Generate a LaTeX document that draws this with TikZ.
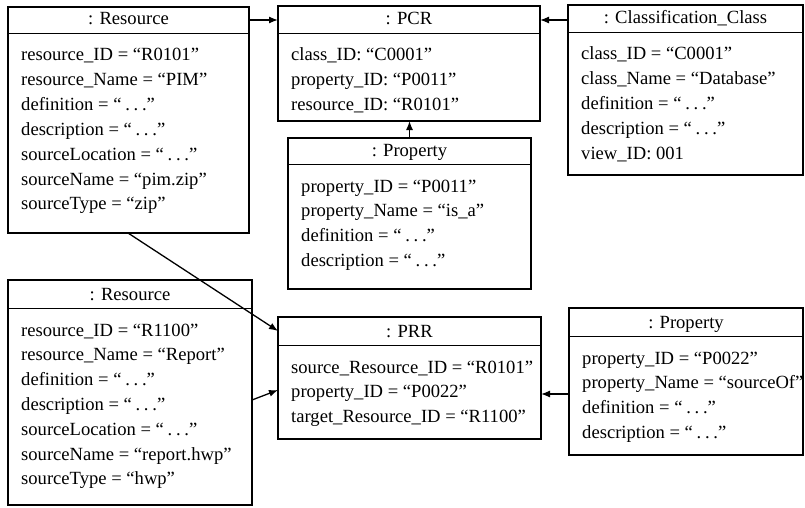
\documentclass[tikz,border=0pt]{standalone}
\usepackage{fontspec}
\setmainfont{Liberation Serif}
\usetikzlibrary{arrows.meta}

% Spaced ellipsis between quotes, as used for omitted values
\newcommand\omitted{“\hspace{.2em}.\hspace{.2em}.\hspace{.2em}.”}

% One object box: name, left, top, right, bottom, y of the title rule, title, attribute lines
\newcommand\objbox[8]{%
  \node[box, minimum width={#4-#2}, minimum height={#5-#3}] (#1) at (#2,#3) {};
  \draw[sep] (#2,#6) -- (#4,#6);
  \node[title] (#1-title) at ({(#2+#4)/2},{#6-8}) {#7};
  \foreach \t [count=\i] in {#8}
    \node[field] (#1-\i) at (#2+13,{#6+28+24.8*(\i-1)}) {\t};
}

\begin{document}
\begin{tikzpicture}[x=1pt,y=-1pt,
  box/.style={draw, line width=1.3pt, inner sep=0pt, outer sep=0pt, anchor=north west},
  sep/.style={line width=0.9pt},
  field/.style={anchor=base west, inner sep=0pt, font=\fontsize{18.6}{24}\selectfont},
  title/.style={anchor=base, inner sep=0pt, font=\fontsize{18.6}{24}\selectfont},
  link/.style={line width=1.3pt, -{Latex[length=9pt,width=7pt]}}]
\useasboundingbox (0,0) rectangle (805,508);

\objbox{res1}{8}{7}{249}{233}{33}{: Resource}{%
  resource\_ID = “R0101”, resource\_Name = “PIM”, definition = \omitted,
  description = \omitted, sourceLocation = \omitted, sourceName = “pim.zip”,
  sourceType = “zip”}

\objbox{pcr}{278}{6}{540}{121}{33}{: PCR}{%
  class\_ID: “C0001”, property\_ID: “P0011”, resource\_ID: “R0101”}

\objbox{cc}{568}{5}{803}{175}{32}{: Classification\_Class}{%
  class\_ID = “C0001”, class\_Name = “Database”, definition = \omitted,
  description = \omitted, view\_ID: 001}

\objbox{prop1}{288}{138}{531}{289}{164}{: Property}{%
  property\_ID = “P0011”, property\_Name = “is\_a”, definition = \omitted,
  description = \omitted}

\objbox{res2}{8}{280}{252}{505}{308}{: Resource}{%
  resource\_ID = “R1100”, resource\_Name = “Report”, definition = \omitted,
  description = \omitted, sourceLocation = \omitted, sourceName = “report.hwp”,
  sourceType = “hwp”}

\objbox{prr}{278}{317}{541}{439}{345}{: PRR}{%
  source\_Resource\_ID = “R0101”, property\_ID = “P0022”, target\_Resource\_ID = “R1100”}

\objbox{prop2}{569}{308}{803}{455}{336}{: Property}{%
  property\_ID = “P0022”, property\_Name = “sourceOf”, definition = \omitted,
  description = \omitted}

% links
\draw[link] (res1.east |- 0,20) -- (pcr.west |- 0,20);
\draw[link] (cc.west |- 0,20) -- (pcr.east |- 0,20);
\draw[link] (prop1.north) -- (prop1.north |- pcr.south);
\draw[link] (res1.south -| 128,0) -- (prr.west |- 0,331);
\draw[link] (res2.east |- 0,400) -- (prr.west |- 0,390);
\draw[link] (prop2.west |- 0,394) -- (prr.east |- 0,394);
\end{tikzpicture}
\end{document}
